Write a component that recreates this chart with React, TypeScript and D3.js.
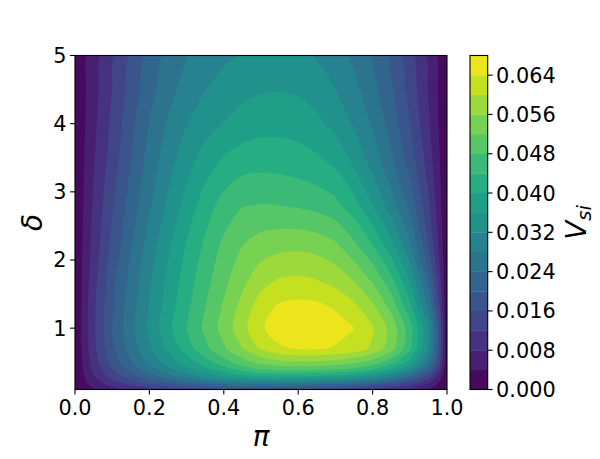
import React from 'react';
import * as d3 from 'd3';

// grid columns (pi) and rows (delta); spacing is uneven, denser near the edges
const piValues = [0, 0.025, 0.05, 0.1, 0.15, 0.2, 0.25, 0.3, 0.35, 0.4, 0.45, 0.5, 0.55, 0.6, 0.65, 0.7, 0.75, 0.8, 0.85, 0.9, 0.95, 0.975, 1];
const deltaValues = [0.1, 0.15, 0.2, 0.3, 0.4, 0.5, 0.7, 1.0, 1.3, 1.7, 2.2, 2.8, 3.4, 4.0, 4.5, 5.0];

// V_si, one row per delta, columns follow piValues
const vsiDelta0_10 = [0, 0.0019, 0.0036, 0.0063, 0.0085, 0.0104, 0.0120, 0.0134, 0.0146, 0.0154, 0.0158, 0.0160, 0.0156, 0.0151, 0.0146, 0.0137, 0.0124, 0.0109, 0.0089, 0.0066, 0.0036, 0.0019, 0];
const vsiDelta0_15 = [0, 0.0026, 0.0048, 0.0084, 0.0113, 0.0139, 0.0161, 0.0183, 0.0200, 0.0214, 0.0225, 0.0230, 0.0228, 0.0221, 0.0214, 0.0202, 0.0186, 0.0165, 0.0138, 0.0103, 0.0057, 0.0030, 0];
const vsiDelta0_20 = [0, 0.0032, 0.0059, 0.0105, 0.0143, 0.0174, 0.0203, 0.0229, 0.0253, 0.0274, 0.0290, 0.0298, 0.0297, 0.0290, 0.0282, 0.0269, 0.0251, 0.0227, 0.0194, 0.0149, 0.0086, 0.0045, 0];
const vsiDelta0_30 = [0, 0.0041, 0.0078, 0.0139, 0.0187, 0.0229, 0.0266, 0.0302, 0.0337, 0.0367, 0.0394, 0.0408, 0.0413, 0.0413, 0.0403, 0.0391, 0.0375, 0.0347, 0.0306, 0.0243, 0.0147, 0.0080, 0];
const vsiDelta0_40 = [0, 0.0048, 0.0090, 0.0160, 0.0217, 0.0264, 0.0308, 0.0349, 0.0387, 0.0425, 0.0460, 0.0485, 0.0495, 0.0494, 0.0491, 0.0487, 0.0473, 0.0443, 0.0395, 0.0324, 0.0214, 0.0124, 0];
const vsiDelta0_50 = [0, 0.0052, 0.0099, 0.0176, 0.0236, 0.0288, 0.0336, 0.0380, 0.0423, 0.0463, 0.0502, 0.0533, 0.0549, 0.0554, 0.0553, 0.0546, 0.0531, 0.0504, 0.0459, 0.0387, 0.0271, 0.0161, 0];
const vsiDelta0_70 = [0, 0.0058, 0.0108, 0.0192, 0.0258, 0.0314, 0.0368, 0.0420, 0.0469, 0.0514, 0.0559, 0.0605, 0.0634, 0.0643, 0.0644, 0.0636, 0.0623, 0.0592, 0.0536, 0.0450, 0.0314, 0.0190, 0];
const vsiDelta1_00 = [0, 0.0060, 0.0113, 0.0200, 0.0268, 0.0328, 0.0388, 0.0441, 0.0489, 0.0535, 0.0587, 0.0635, 0.0661, 0.0667, 0.0664, 0.0657, 0.0641, 0.0605, 0.0546, 0.0459, 0.0323, 0.0195, 0];
const vsiDelta1_30 = [0, 0.0059, 0.0111, 0.0195, 0.0263, 0.0322, 0.0379, 0.0431, 0.0480, 0.0526, 0.0574, 0.0622, 0.0648, 0.0655, 0.0652, 0.0636, 0.0611, 0.0570, 0.0510, 0.0414, 0.0276, 0.0158, 0];
const vsiDelta1_70 = [0, 0.0056, 0.0105, 0.0187, 0.0254, 0.0314, 0.0369, 0.0420, 0.0466, 0.0509, 0.0549, 0.0585, 0.0604, 0.0607, 0.0601, 0.0586, 0.0559, 0.0515, 0.0453, 0.0360, 0.0223, 0.0122, 0];
const vsiDelta2_20 = [0, 0.0050, 0.0095, 0.0171, 0.0237, 0.0298, 0.0353, 0.0403, 0.0448, 0.0490, 0.0520, 0.0540, 0.0549, 0.0552, 0.0546, 0.0529, 0.0491, 0.0443, 0.0376, 0.0288, 0.0164, 0.0085, 0];
const vsiDelta2_80 = [0, 0.0045, 0.0086, 0.0156, 0.0218, 0.0275, 0.0328, 0.0376, 0.0421, 0.0456, 0.0478, 0.0482, 0.0480, 0.0475, 0.0466, 0.0452, 0.0416, 0.0362, 0.0300, 0.0230, 0.0127, 0.0066, 0];
const vsiDelta3_40 = [0, 0.0040, 0.0077, 0.0140, 0.0201, 0.0258, 0.0306, 0.0347, 0.0382, 0.0410, 0.0426, 0.0430, 0.0428, 0.0422, 0.0412, 0.0395, 0.0356, 0.0309, 0.0252, 0.0189, 0.0104, 0.0053, 0];
const vsiDelta4_00 = [0, 0.0037, 0.0070, 0.0129, 0.0187, 0.0242, 0.0285, 0.0319, 0.0344, 0.0362, 0.0376, 0.0385, 0.0386, 0.0382, 0.0369, 0.0347, 0.0315, 0.0275, 0.0224, 0.0162, 0.0087, 0.0044, 0];
const vsiDelta4_50 = [0, 0.0035, 0.0065, 0.0121, 0.0176, 0.0226, 0.0266, 0.0296, 0.0319, 0.0336, 0.0349, 0.0356, 0.0358, 0.0354, 0.0343, 0.0321, 0.0293, 0.0254, 0.0207, 0.0147, 0.0077, 0.0039, 0];
const vsiDelta5_00 = [0, 0.0032, 0.0061, 0.0112, 0.0166, 0.0213, 0.0251, 0.0279, 0.0299, 0.0312, 0.0322, 0.0330, 0.0332, 0.0327, 0.0316, 0.0296, 0.0270, 0.0235, 0.0191, 0.0133, 0.0069, 0.0035, 0];

const vsiRows = [
  vsiDelta0_10, vsiDelta0_15, vsiDelta0_20, vsiDelta0_30, vsiDelta0_40, vsiDelta0_50,
  vsiDelta0_70, vsiDelta1_00, vsiDelta1_30, vsiDelta1_70, vsiDelta2_20, vsiDelta2_80,
  vsiDelta3_40, vsiDelta4_00, vsiDelta4_50, vsiDelta5_00,
];

const levels = [0, 0.004, 0.008, 0.012, 0.016, 0.02, 0.024, 0.028, 0.032, 0.036, 0.04, 0.044, 0.048, 0.052, 0.056, 0.06, 0.064, 0.068];
const colorbarTicks = [0, 0.008, 0.016, 0.024, 0.032, 0.04, 0.048, 0.056, 0.064];
const piTicks = [0, 0.2, 0.4, 0.6, 0.8, 1.0];
const deltaTicks = [1, 2, 3, 4, 5];

const plot = { left: 75, right: 447, top: 55.5, bottom: 389.5 };
const cbar = { left: 470, right: 487.7 };
const font = 'DejaVu Sans, sans-serif';
const tickSize = 20.8;
const tickLen = 4.9;

export default function App() {
  const x = d3.scaleLinear().domain([0, 1]).range([plot.left, plot.right]);
  const y = d3.scaleLinear().domain([0.1, 5]).range([plot.bottom, plot.top]);
  const cy = d3.scaleLinear().domain([0, 0.068]).range([plot.bottom, plot.top]);

  const nx = piValues.length;
  const ny = deltaValues.length;
  const colToPi = d3.scaleLinear().domain(d3.range(nx)).range(piValues).clamp(true);
  const rowToDelta = d3.scaleLinear().domain(d3.range(ny)).range(deltaValues).clamp(true);

  const nBands = levels.length - 1;
  const color = (i: number) => d3.interpolateViridis((i + 0.5) / nBands);

  const bands = d3.contours().size([nx, ny]).thresholds(levels.slice(0, -1))(vsiRows.flat());

  const line = d3.line().curve(d3.curveCatmullRomClosed.alpha(0.5));
  const ringPath = (ring: number[][]) => {
    const pts: [number, number][] = [];
    for (const [gx, gy] of ring.slice(0, -1)) {
      const q: [number, number] = [x(colToPi(gx - 0.5)), y(rowToDelta(gy - 0.5))];
      const last = pts[pts.length - 1];
      if (!last || Math.abs(last[0] - q[0]) > 0.01 || Math.abs(last[1] - q[1]) > 0.01) pts.push(q);
    }
    return pts.length > 2 ? line(pts) || '' : '';
  };

  return (
    <svg width={600} height={459} style={{ position: 'absolute', left: 0, top: 0, background: '#fff' }}
      fontFamily={font}>
      <defs>
        <clipPath id="plot-clip">
          <rect x={plot.left} y={plot.top} width={plot.right - plot.left} height={plot.bottom - plot.top} />
        </clipPath>
      </defs>

      <g clipPath="url(#plot-clip)">
        <rect x={plot.left} y={plot.top} width={plot.right - plot.left} height={plot.bottom - plot.top} fill={color(0)} />
        {bands.map((b, i) => (
          <path key={i} fill={color(i)} fillRule="evenodd"
            d={b.coordinates.map(poly => poly.map(ringPath).join('')).join('')} />
        ))}
      </g>

      {/* axes frame */}
      <rect x={plot.left} y={plot.top} width={plot.right - plot.left} height={plot.bottom - plot.top}
        fill="none" stroke="#000" strokeWidth={1.1} />

      {piTicks.map(t => (
        <g key={'x' + t}>
          <line x1={x(t)} x2={x(t)} y1={plot.bottom} y2={plot.bottom + tickLen} stroke="#000" strokeWidth={1.1} />
          <text x={x(t)} y={415} fontSize={tickSize} textAnchor="middle">{d3.format('.1f')(t)}</text>
        </g>
      ))}
      {deltaTicks.map(t => (
        <g key={'y' + t}>
          <line x1={plot.left - tickLen} x2={plot.left} y1={y(t)} y2={y(t)} stroke="#000" strokeWidth={1.1} />
          <text x={plot.left - tickLen - 3.5} y={y(t)} dy="0.36em" fontSize={tickSize} textAnchor="end">{t}</text>
        </g>
      ))}

      <text x={(plot.left + plot.right) / 2} y={446} fontSize={27.8} fontStyle="italic" textAnchor="middle">π</text>
      <text transform={`translate(42,${(plot.top + plot.bottom) / 2}) rotate(-90)`} fontSize={27.8}
        fontStyle="italic" textAnchor="middle">δ</text>

      {/* colorbar */}
      {levels.slice(0, -1).map((lv, i) => (
        <rect key={'c' + i} x={cbar.left} width={cbar.right - cbar.left}
          y={cy(levels[i + 1])} height={cy(lv) - cy(levels[i + 1]) + 0.3} fill={color(i)} />
      ))}
      <rect x={cbar.left} y={plot.top} width={cbar.right - cbar.left} height={plot.bottom - plot.top}
        fill="none" stroke="#000" strokeWidth={1.1} />
      {colorbarTicks.map(t => (
        <g key={'cb' + t}>
          <line x1={cbar.right} x2={cbar.right + tickLen} y1={cy(t)} y2={cy(t)} stroke="#000" strokeWidth={1.1} />
          <text x={cbar.right + tickLen + 3.5} y={cy(t)} dy="0.36em" fontSize={tickSize}>{d3.format('.3f')(t)}</text>
        </g>
      ))}
      <text transform={`translate(586,${(plot.top + plot.bottom) / 2}) rotate(-90)`} fontSize={27.8}
        fontStyle="italic" textAnchor="middle">
        V<tspan fontSize={19.5} dy={5}>si</tspan>
      </text>
    </svg>
  );
}
